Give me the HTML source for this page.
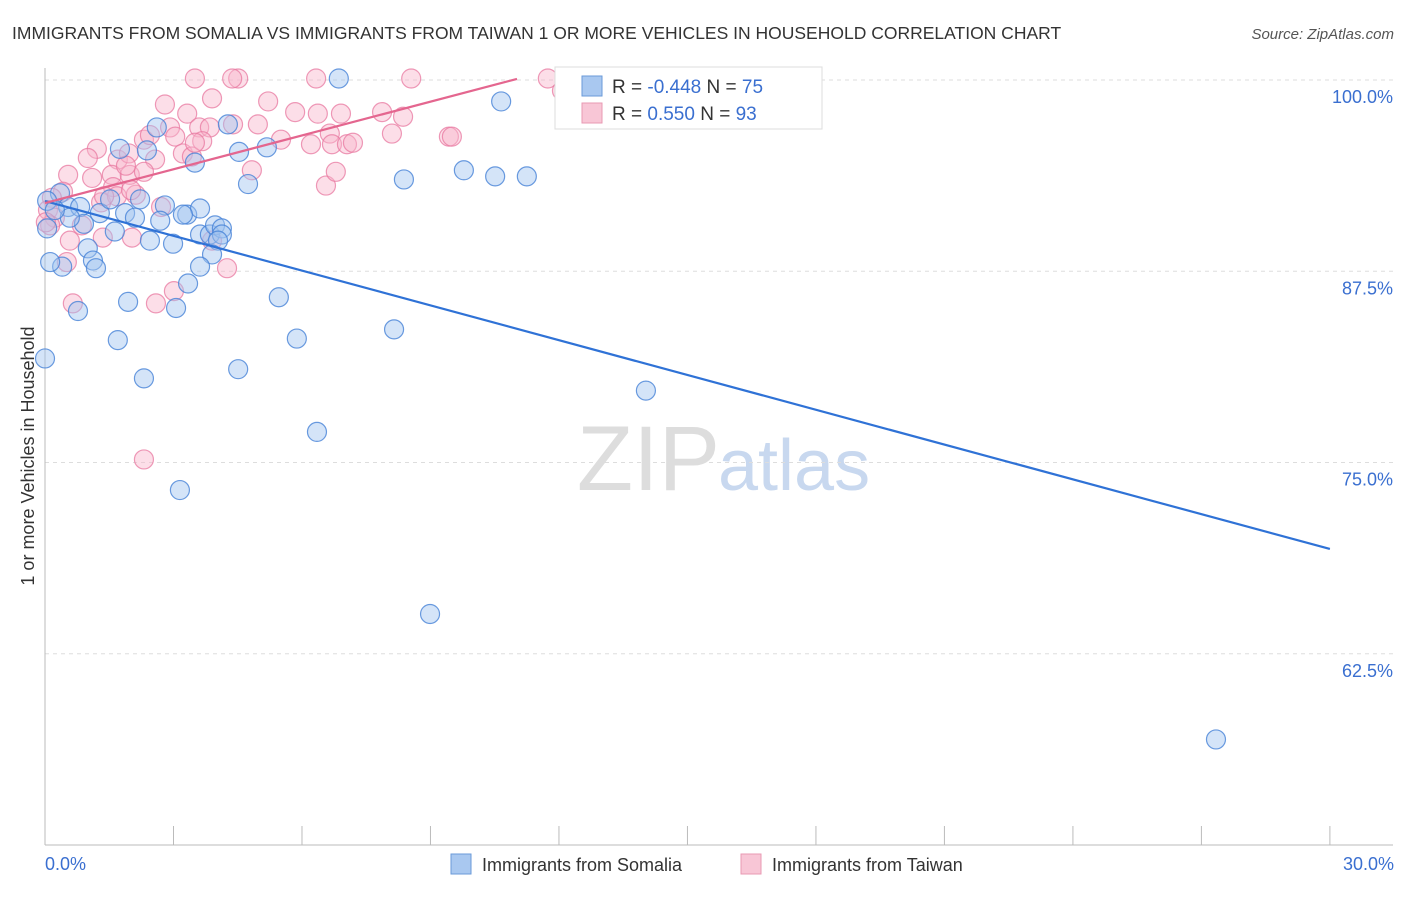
<!DOCTYPE html>
<html><head><meta charset="utf-8"><style>
body{margin:0;background:#fff;font-family:"Liberation Sans",sans-serif}
svg text{font-family:"Liberation Sans",sans-serif}
</style></head><body>
<svg width="1406" height="892">
<text x="12" y="39" font-size="17.5" fill="#333">IMMIGRANTS FROM SOMALIA VS IMMIGRANTS FROM TAIWAN 1 OR MORE VEHICLES IN HOUSEHOLD CORRELATION CHART</text>
<text x="1394" y="39" font-size="15" fill="#555" text-anchor="end" font-style="italic">Source: ZipAtlas.com</text>
<text x="720" y="490" font-size="92" fill="#ddd" text-anchor="end" font-family="Liberation Serif">ZIP</text>
<text x="718" y="490" font-size="72" fill="#c8d8ef">atlas</text>
<g id="grid"></g><g id="axes"></g><g id="pts"></g><g id="lines"></g>
<text transform="translate(34,456) rotate(-90)" font-size="18" fill="#333" text-anchor="middle">1 or more Vehicles in Household</text>
<text x="45" y="870" font-size="18" fill="#3a6fd0">0.0%</text>
<text x="1394" y="870" font-size="18" fill="#3a6fd0" text-anchor="end">30.0%</text>
<g>
<rect x="555" y="67" width="267" height="62" fill="#fff" stroke="#ddd"/>
<rect x="582" y="76" width="20" height="20" fill="#a9c8f0" stroke="#6a9ad8"/>
<rect x="582" y="103" width="20" height="20" fill="#f8c6d6" stroke="#e899b3"/>
<text x="612" y="93" font-size="19" fill="#333">R = <tspan fill="#3a6fd0">-0.448</tspan>   N = <tspan fill="#3a6fd0">75</tspan></text>
<text x="612" y="120" font-size="19" fill="#333">R =  <tspan fill="#3a6fd0"> 0.550</tspan>   N = <tspan fill="#3a6fd0">93</tspan></text>
</g>
<g>
<rect x="451" y="854" width="20" height="20" fill="#a9c8f0" stroke="#6a9ad8"/>
<text x="482" y="871" font-size="18" fill="#333">Immigrants from Somalia</text>
<rect x="741" y="854" width="20" height="20" fill="#f8c6d6" stroke="#e899b3"/>
<text x="772" y="871" font-size="18" fill="#333">Immigrants from Taiwan</text>
</g>
</svg>
<script>
const yTicks=[100,87.5,75,62.5];
const yTickLabels=["100.0%","87.5%","75.0%","62.5%"];
const xTicks=[0,3,6,9,12,15,18,21,24,27,30];
const somaliaX=[6.86,10.65,2.61,4.27,4.53,5.18,1.75,2.38,3.5,4.74,8.38,9.78,10.51,11.25,0.35,0.05,0.54,0.82,1.28,1.87,2.22,2.8,3.32,3.62,2.1,2.69,3.22,0.91,1.63,2.45,2.99,3.62,3.85,3.97,4.13,4.13,4.04,3.9,1.0,1.12,1.19,0.4,0.12,3.62,3.34,1.94,3.06,0.77,5.46,1.7,5.88,8.15,0.0,2.31,4.51,14.03,6.35,3.15,8.99,27.34,0.58,0.23,1.52,0.05];
const somaliaY=[100.1,98.6,96.9,97.1,95.3,95.6,95.5,95.4,94.6,93.2,93.5,94.1,93.7,93.7,92.6,92.1,91.7,91.7,91.3,91.3,92.2,91.8,91.2,91.6,91.0,90.8,91.2,90.6,90.1,89.5,89.3,89.9,89.9,90.5,90.3,89.9,89.5,88.6,89.0,88.2,87.7,87.8,88.1,87.8,86.7,85.5,85.1,84.9,85.8,83.0,83.1,83.7,81.8,80.5,81.1,79.7,77.0,73.2,65.1,56.9,91.0,91.5,92.2,90.3];
const taiwanX=[3.5,4.51,4.37,6.33,8.55,11.74,12.07,2.8,3.9,5.21,3.32,5.84,6.37,6.91,7.87,8.36,4.39,4.97,3.6,2.92,2.31,2.45,3.04,3.85,5.51,8.1,9.43,9.5,6.65,1.21,1.0,1.7,1.96,3.22,3.43,2.57,3.67,3.5,6.21,6.7,7.05,7.19,0.54,1.1,1.56,1.98,2.31,1.59,2.12,1.31,1.68,1.89,2.01,0.42,0.16,0.07,0.23,0.12,0.02,0.86,0.58,1.35,2.03,2.71,3.9,4.25,0.65,2.59,3.01,2.31,0.51,4.83,6.56,6.79,1.38];
const taiwanY=[100.1,100.1,100.1,100.1,100.1,100.1,99.3,98.4,98.8,98.6,97.8,97.9,97.8,97.8,97.9,97.6,97.1,97.1,96.9,96.9,96.1,96.4,96.3,96.9,96.1,96.5,96.3,96.3,96.5,95.5,94.9,94.8,95.2,95.2,95.0,94.8,96.0,95.9,95.8,95.8,95.8,95.9,93.8,93.6,93.8,93.8,94.0,93.0,92.5,92.0,92.4,94.4,92.8,92.7,92.3,91.5,91.0,90.5,90.7,90.5,89.5,89.7,89.7,91.7,89.5,87.7,85.4,85.4,86.2,75.2,88.1,94.1,93.1,94.0,92.4];
const somaliaTrend=[[0,92.09],[30,69.35]];
const taiwanTrend=[[0,91.96],[11.02,100.07]];
const NS="http://www.w3.org/2000/svg";
const X=v=>45+v*42.83, Y=v=>80+(100-v)*15.3;
function mk(t,a,p){const e=document.createElementNS(NS,t);for(const k in a)e.setAttribute(k,a[k]);document.getElementById(p).appendChild(e);return e;}
yTicks.forEach((t,i)=>{
 const g=mk('line',{x1:45,x2:1393,y1:Y(t),y2:Y(t),stroke:'#ddd','stroke-dasharray':'4,4'},'grid');
 
 
 const l=mk('text',{x:1393,y:Y(t)+23,'font-size':18,fill:'#3a6fd0','text-anchor':'end'},'grid');
 l.textContent=yTickLabels[i];
 
 
});
const ax=mk('line',{x1:45,x2:1393,y1:845,y2:845,stroke:'#bbb'},'axes');


const ay=mk('line',{x1:45,x2:45,y1:68,y2:845,stroke:'#bbb'},'axes');


xTicks.forEach(t=>{
 const k=mk('line',{x1:X(t),x2:X(t),y1:826,y2:845,stroke:'#bbb'},'axes');
 
 
});
taiwanX.forEach((x,i)=>{
 const c=mk('circle',{cx:X(x),cy:Y(taiwanY[i]),r:9.5,fill:'rgba(248,182,204,0.45)',stroke:'rgba(232,120,160,0.75)','stroke-width':1.2},'pts');
 
 
});
somaliaX.forEach((x,i)=>{
 const c=mk('circle',{cx:X(x),cy:Y(somaliaY[i]),r:9.5,fill:'rgba(160,196,240,0.45)',stroke:'rgba(70,130,215,0.8)','stroke-width':1.2},'pts');
 
 
});
const l1=mk('line',{x1:X(somaliaTrend[0][0]),y1:Y(somaliaTrend[0][1]),x2:X(somaliaTrend[1][0]),y2:Y(somaliaTrend[1][1]),stroke:'#2f72d6','stroke-width':2.2},'lines');


const l2=mk('line',{x1:X(taiwanTrend[0][0]),y1:Y(taiwanTrend[0][1]),x2:X(taiwanTrend[1][0]),y2:Y(taiwanTrend[1][1]),stroke:'#e4668f','stroke-width':2.2},'lines');


</script>
</body></html>
